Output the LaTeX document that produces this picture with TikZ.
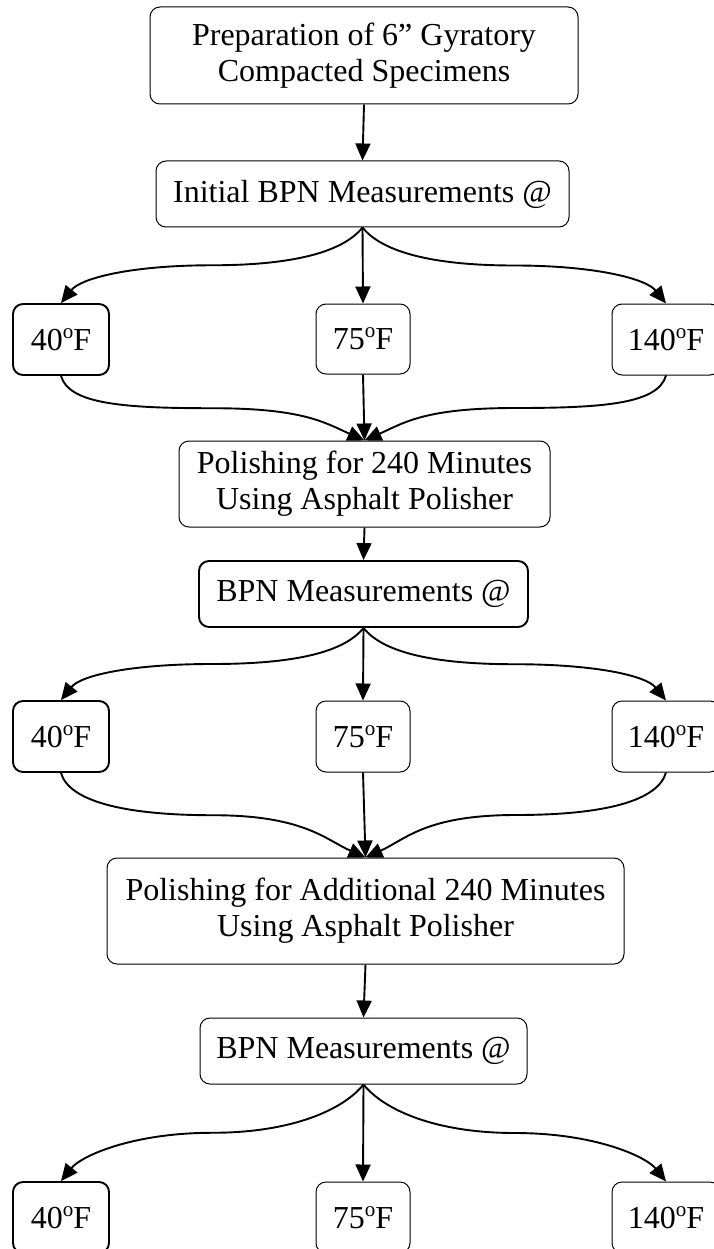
\documentclass[tikz,border=0pt]{standalone}
\usepackage{fontspec}
\setmainfont{Liberation Serif}
\usetikzlibrary{arrows.meta,calc}
\newcommand{\degsup}{\raisebox{12pt}{\fontsize{21}{21}\selectfont o}}
\begin{document}
\begin{tikzpicture}[x=1pt,y=-1pt,
  box/.style={draw, rounded corners=10pt, line width=1pt, align=center,
    font=\fontsize{32}{36}\selectfont, inner sep=0pt},
  boldbox/.style={box, line width=1.9pt},
  conn/.style={line width=1.9pt, -{Triangle[length=17pt,width=15pt]}},
]
\useasboundingbox (0,0) rectangle (713,1249);

% ---- nodes ----
\node[box, minimum width=428pt, minimum height=97pt] (prep) at (364,55.5)
  {Preparation of 6” Gyratory\\Compacted Specimens};
\node[box, minimum width=413pt, minimum height=66pt] (init) at (362.5,194)
  {Initial BPN Measurements @};

\node[boldbox, minimum width=96pt, minimum height=71pt] (a1) at (61,339.5) {40\degsup F};
\node[box, minimum width=94pt, minimum height=70pt] (b1) at (363,339) {75\degsup F};
\node[box, minimum width=108pt, minimum height=71pt] (c1) at (666,339.5) {140\degsup F};

\node[box, minimum width=371pt, minimum height=86pt] (pol1) at (364.5,484)
  {Polishing for 240 Minutes\\Using Asphalt Polisher};
\node[boldbox, minimum width=329pt, minimum height=66pt] (bpn2) at (363.5,594)
  {BPN Measurements @};

\node[boldbox, minimum width=96pt, minimum height=71pt] (a2) at (61,736.5) {40\degsup F};
\node[box, minimum width=94pt, minimum height=71pt] (b2) at (363,736.5) {75\degsup F};
\node[box, minimum width=108pt, minimum height=71pt] (c2) at (666,736.5) {140\degsup F};

\node[box, minimum width=517pt, minimum height=106pt] (pol2) at (365.5,911)
  {Polishing for Additional 240 Minutes\\Using Asphalt Polisher};
\node[box, minimum width=327pt, minimum height=66pt] (bpn3) at (363.5,1051)
  {BPN Measurements @};

\node[boldbox, minimum width=96pt, minimum height=71pt] (a3) at (61,1217.5) {40\degsup F};
\node[box, minimum width=94pt, minimum height=71pt] (b3) at (363,1217.5) {75\degsup F};
\node[box, minimum width=108pt, minimum height=71pt] (c3) at (666,1217.5) {140\degsup F};

% ---- straight connectors ----
\draw[conn] (prep.south) -- (init.north);
\draw[conn] (pol1.south) -- (bpn2.north);
\draw[conn] (pol2.south) -- (bpn3.north);

% ---- diverging connectors ----
\foreach \s/\l/\m/\r in {init/a1/b1/c1, bpn2/a2/b2/c2, bpn3/a3/b3/c3}{
  \draw[conn] (\s.south) .. controls +(-20,25) and +(80,0) ..
    ($(\s.south)!.5!(\l.north)$) .. controls +(-80,0) and +(20,-25) .. (\l.north);
  \draw[conn] (\s.south) -- (\m.north);
  \draw[conn] (\s.south) .. controls +(20,25) and +(-80,0) ..
    ($(\s.south)!.5!(\r.north)$) .. controls +(80,0) and +(-20,-25) .. (\r.north);
}

% ---- converging connectors ----
\foreach \l/\m/\r/\t in {a1/b1/c1/pol1, a2/b2/c2/pol2}{
  \draw[conn] (\l.south) .. controls +(8,28) and +(-90,0) ..
    ($(\l.south)!.5!(\t.north)$) .. controls +(90,0) and +(-40,-18) .. (\t.north);
  \draw[conn] (\m.south) -- (\t.north);
  \draw[conn] (\r.south) .. controls +(-8,28) and +(90,0) ..
    ($(\r.south)!.5!(\t.north)$) .. controls +(-90,0) and +(40,-18) .. (\t.north);
}
\end{tikzpicture}
\end{document}
